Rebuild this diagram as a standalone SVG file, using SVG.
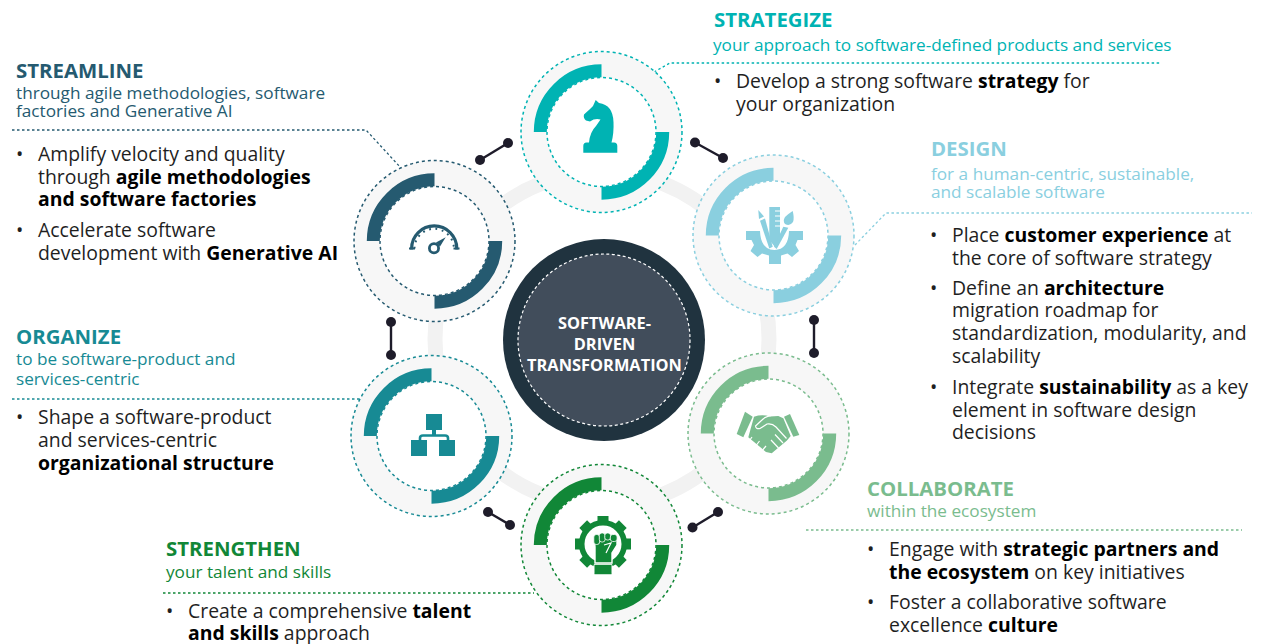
<svg xmlns="http://www.w3.org/2000/svg" width="1263" height="644" viewBox="0 0 1263 644">
<style>
text{font-family:"Open Sans","Noto Sans",sans-serif;}
.h{font-size:20.4px;font-weight:700;}
.s{font-size:17.2px;}
.b{font-size:19.4px;fill:#1f1f1f;}
.b tspan.k,.k{font-weight:700;fill:#000;}
.halo{fill:#f7f7f7;stroke:none;}
.hole{fill:#fff;stroke:none;}
.ring{fill:none;stroke-width:1.5;stroke-dasharray:3 3;}
.arc{fill:none;stroke-width:13;}
.lead{fill:none;stroke-width:1.3;stroke-dasharray:2.5 2.5;}
.dot{fill:#1e1c2a;}
.bar{stroke:#1e1c2a;stroke-width:2.4;}
.cut{fill:none;stroke:#fff;stroke-width:1.2;}
</style>
<defs>
<g id="node">
<circle class="halo" r="80.5"/>
<circle class="hole" r="54.5"/>
<circle class="ring" r="80.5"/>
<circle class="ring" r="54.5"/>
<path class="arc" d="M-61.2 0A61.2 61.2 0 0 1 0 -61.2"/>
<path class="arc" d="M61.2 0A61.2 61.2 0 0 1 0 61.2"/>
</g>
</defs>
<circle cx="602" cy="339" r="167" fill="none" stroke="#f2f2f2" stroke-width="15"/>
<g id="connectors">
<line class="bar" x1="480" y1="160" x2="508" y2="143"/><circle class="dot" cx="480" cy="160" r="5"/><circle class="dot" cx="508" cy="143" r="5"/>
<line class="bar" x1="695" y1="142.5" x2="723" y2="158"/><circle class="dot" cx="695" cy="142.5" r="5"/><circle class="dot" cx="723" cy="158" r="5"/>
<line class="bar" x1="814" y1="320" x2="814" y2="353"/><circle class="dot" cx="814" cy="320" r="5"/><circle class="dot" cx="814" cy="353" r="5"/>
<line class="bar" x1="391" y1="322" x2="391" y2="355"/><circle class="dot" cx="391" cy="322" r="5"/><circle class="dot" cx="391" cy="355" r="5"/>
<line class="bar" x1="488" y1="512" x2="510" y2="525"/><circle class="dot" cx="488" cy="512" r="5"/><circle class="dot" cx="510" cy="525" r="5"/>
<line class="bar" x1="692.5" y1="527.5" x2="718" y2="512"/><circle class="dot" cx="692.5" cy="527.5" r="5"/><circle class="dot" cx="718" cy="512" r="5"/>
<path class="lead" stroke="#00b3b3" d="M654 72L670 63H1160"/>
<path class="lead" stroke="#8acfdf" d="M855 245L886 213H1252"/>
<path class="lead" stroke="#255a70" d="M12 130H366L401 168"/>
<path class="lead" stroke="#178a94" d="M12 399H360"/>
<path class="lead" stroke="#118737" d="M163 593H534"/>
<path class="lead" stroke="#7abc8e" d="M806 530H1242"/>
</g>
<g id="center">
<circle cx="604" cy="340" r="101" fill="#20333f"/>
<circle cx="604" cy="340" r="86" fill="#414d5b" stroke="#fff" stroke-width="1.2" stroke-dasharray="3 2.5"/>
<text x="604.500" y="329" text-anchor="middle" font-size="16.400" font-weight="700" fill="#fff">SOFTWARE-</text>
<text x="604.500" y="350" text-anchor="middle" font-size="16.400" font-weight="700" fill="#fff">DRIVEN</text>
<text x="604.500" y="371" text-anchor="middle" font-size="16.400" font-weight="700" fill="#fff">TRANSFORMATION</text>
</g>
<g id="strategize" stroke="#00b3b3">
<use href="#node" transform="translate(601.5 132)"/>
<path stroke="none" fill="#00b3b3" d="M583.300 152.700V146Q583.300 142.500 586.500 142.500H589Q590 132 596 126L600.500 119.500Q595 118 590 121.500L586 120.500Q583 118 584 114.500Q590 109 593 106L595.700 100L599 103Q613 105 613.500 122Q614 133 611.500 142.500H614Q617.300 142.500 617.300 146V152.700Z"/>
</g>
<text class="h" fill="#00b3b3" x="714" y="27">STRATEGIZE</text>
<text class="s" fill="#00b3b3" x="713" y="51">your approach to software-defined products and services</text>
<text class="b"><tspan x="714" y="88">•</tspan><tspan x="736" y="88">Develop a strong software <tspan class="k">strategy</tspan> for</tspan><tspan x="736" y="111">your organization</tspan></text>
<g id="design">
<g stroke="#8acfdf"><use href="#node" transform="translate(773.5 235.500)"/></g>
<g fill="#8acfdf">
<path d="M746 231H760Q760.500 249.500 774.500 250Q788.500 249.500 789 231H803V240H797.500L795.500 245L799 251L792 257L787.500 253.500L781 255.500V264H769V255.500L762 253.500L757.500 257L750.500 251L754 245L751.500 240H746Z"/>
<path d="M758.300 210L764 216.500L759 219Z"/>
<path d="M760 220.700L765 218.500L772.700 246.700L769.300 248.500Z"/>
<path d="M769.300 207H780V240L775 247L769.300 240Z"/>
<path d="M783.300 226.700L788.300 227.700L776.700 249L774 246.700Z"/>
<path d="M792.700 211Q794.500 218 793 222Q790 226.500 785 224Q782.500 221 785 217Q788 214 792.700 211Z"/>
</g>
<path class="cut" d="M775 211H780M775 216H780M775 221H780M775 226H780"/>
</g>
<text class="h" fill="#8acfdf" x="931" y="156">DESIGN</text>
<text class="s" fill="#8acfdf" x="931" y="180">for a human-centric, sustainable,</text>
<text class="s" fill="#8acfdf" x="931" y="198">and scalable software</text>
<text class="b"><tspan x="930" y="242">•</tspan><tspan x="952" y="242">Place <tspan class="k">customer experience</tspan> at</tspan><tspan x="952" y="265">the core of software strategy</tspan><tspan x="930" y="295">•</tspan><tspan x="952" y="295">Define an <tspan class="k">architecture</tspan></tspan><tspan x="952" y="317">migration roadmap for</tspan><tspan x="952" y="340">standardization, modularity, and</tspan><tspan x="952" y="363">scalability</tspan><tspan x="930" y="394">•</tspan><tspan x="952" y="394">Integrate <tspan class="k">sustainability</tspan> as a key</tspan><tspan x="952" y="417">element in software design</tspan><tspan x="952" y="439">decisions</tspan></text>
<g id="streamline">
<g stroke="#255a70"><use href="#node" transform="translate(434.500 241)"/></g>
<path fill="none" stroke="#255a70" stroke-width="3.200" d="M411.600 249.500V248.500A22.600 22.600 0 0 1 456.800 248.500V249.500"/>
<path fill="none" stroke="#255a70" stroke-width="2" stroke-dasharray="1.800 4.600" d="M414.500 248.500A19.700 19.700 0 0 1 453.900 248.500"/>
<path fill="none" stroke="#255a70" stroke-width="2" d="M409 248.500H415M453.500 248.500H459.500"/>
<circle cx="434" cy="248.300" r="4.600" fill="none" stroke="#255a70" stroke-width="2.800"/>
<path fill="#255a70" d="M436 242.500L445.700 237.300L440 246.500Z"/>
</g>
<text class="h" fill="#255a70" x="16" y="78">STREAMLINE</text>
<text class="s" fill="#255a70" x="16" y="99">through agile methodologies, software</text>
<text class="s" fill="#255a70" x="16" y="117">factories and Generative AI</text>
<text class="b"><tspan x="16" y="161">•</tspan><tspan x="38" y="161">Amplify velocity and quality</tspan><tspan x="38" y="184">through <tspan class="k">agile methodologies</tspan></tspan><tspan x="38" y="206" class="k">and software factories</tspan><tspan x="16" y="237">•</tspan><tspan x="38" y="237">Accelerate software</tspan><tspan x="38" y="260">development with <tspan class="k">Generative AI</tspan></tspan></text>
<g id="organize">
<g stroke="#178a94"><use href="#node" transform="translate(431.500 436)"/></g>
<g fill="#178a94"><rect x="426" y="414" width="16" height="16"/><rect x="411" y="440" width="16" height="16"/><rect x="439" y="440" width="16" height="16"/><rect x="432" y="430" width="4" height="5"/></g>
<path fill="none" stroke="#178a94" stroke-width="2.600" d="M420 440V438Q420 435.500 423 435.500H445Q448 435.500 448 438V440"/>
</g>
<text class="h" fill="#178a94" x="16" y="344">ORGANIZE</text>
<text class="s" fill="#178a94" x="16" y="365">to be software-product and</text>
<text class="s" fill="#178a94" x="16" y="385">services-centric</text>
<text class="b"><tspan x="16" y="424">•</tspan><tspan x="38" y="424">Shape a software-product</tspan><tspan x="38" y="447">and services-centric</tspan><tspan x="38" y="470" class="k">organizational structure</tspan></text>
<g id="strengthen">
<g stroke="#118737"><use href="#node" transform="translate(601.500 545)"/></g>
<circle cx="603" cy="544" r="21.300" fill="none" stroke="#118737" stroke-width="5.600"/>
<g fill="#118737"><rect x="597.500" y="516" width="11" height="8"/><rect x="597.500" y="516" width="11" height="8" transform="rotate(45 603 544)"/><rect x="597.500" y="516" width="11" height="8" transform="rotate(90 603 544)"/><rect x="597.500" y="516" width="11" height="8" transform="rotate(135 603 544)"/><rect x="597.500" y="516" width="11" height="8" transform="rotate(225 603 544)"/><rect x="597.500" y="516" width="11" height="8" transform="rotate(270 603 544)"/><rect x="597.500" y="516" width="11" height="8" transform="rotate(315 603 544)"/></g>
<path fill="#118737" stroke="#fff" stroke-width="1.400" d="M594 534.500H617V545L612 553V563H595V547Z"/>
<g fill="#118737" stroke="#fff" stroke-width="0.800"><rect x="593.800" y="534.500" width="5.800" height="10" rx="2.500"/><rect x="599.300" y="533" width="5.800" height="9" rx="2.500"/><rect x="604.800" y="533" width="5.800" height="7" rx="2.500"/><rect x="610.300" y="534.500" width="6.800" height="7" rx="2.500"/></g>
<path class="cut" d="M604 545L611 543L606 553"/>
<rect x="594" y="564.300" width="18" height="10.500" rx="1" fill="#118737" stroke="#fff" stroke-width="1"/>
</g>
<text class="h" fill="#118737" x="166" y="556">STRENGTHEN</text>
<text class="s" fill="#118737" x="166" y="578">your talent and skills</text>
<text class="b"><tspan x="166" y="618">•</tspan><tspan x="188" y="618">Create a comprehensive <tspan class="k">talent</tspan></tspan><tspan x="188" y="640"><tspan class="k">and skills</tspan> approach</tspan></text>
<g id="collaborate">
<g stroke="#7abc8e"><use href="#node" transform="translate(768.500 433.500)"/></g>
<g fill="#7abc8e"><path d="M745 411.700L752.700 416.700L743.300 437.300L736.700 434Z"/><path d="M784 416.700L790 414L799.300 435L793.300 436.700Z"/><path d="M754 416.700Q762 414 770 416.500L778.300 416L783.300 418.300L790.700 436L786.700 440.700L771.700 453.300L766 452L748.300 437.300Z"/></g>
<path class="cut" d="M780 415.500Q768 414 762 420L755.500 426Q756 429.500 760 428.500L767 424Q772 423 776 427L786.500 438.500M775 434.500L783 443M771 440L778.500 448M752 437L748.500 442M759.500 441L755 447M766 446L761 452"/>
</g>
<text class="h" fill="#7abc8e" x="867" y="496">COLLABORATE</text>
<text class="s" fill="#7abc8e" x="867" y="517">within the ecosystem</text>
<text class="b"><tspan x="867" y="556">•</tspan><tspan x="889" y="556">Engage with <tspan class="k">strategic partners and</tspan></tspan><tspan x="889" y="579"><tspan class="k">the ecosystem</tspan> on key initiatives</tspan><tspan x="867" y="609">•</tspan><tspan x="889" y="609">Foster a collaborative software</tspan><tspan x="889" y="632">excellence <tspan class="k">culture</tspan></tspan></text>
</svg>
